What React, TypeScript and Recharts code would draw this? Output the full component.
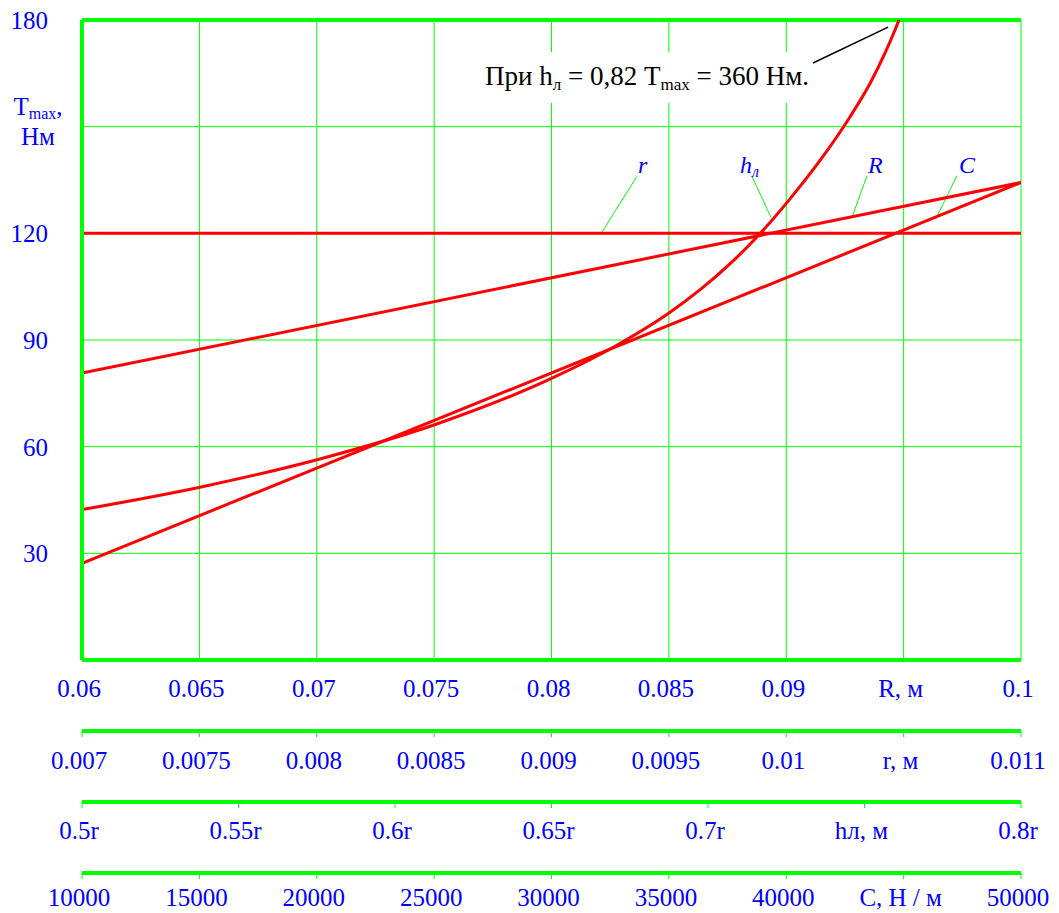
import React from 'react';
import {
  ComposedChart,
  Line,
  XAxis,
  YAxis,
  CartesianGrid,
  ReferenceLine,
  ReferenceArea,
  Scatter,
} from 'recharts';

// ---- data ----
const R_VALUES = [0.06, 0.1];
const R_TORQUE = [80.7, 134.3];

const SMALL_R_VALUES = [0.007, 0.011];
const SMALL_R_TORQUE = [120, 120];

const H_VALUES = [0.5, 0.5377, 0.5754, 0.6131, 0.6505, 0.6706, 0.6872, 0.6974, 0.707, 0.7166, 0.7262, 0.7358, 0.7454, 0.7518, 0.7565, 0.7607, 0.7629];
const H_TORQUE = [42.3, 48.6, 56.4, 66.3, 79.4, 88.4, 97.4, 104.1, 111.4, 119.9, 129.7, 140.5, 152.8, 162.2, 170.6, 179.3, 184.6];

const C_VALUES = [10000, 50000];
const C_TORQUE = [27.2, 134.3];

const R_TICKS = [0.06, 0.065, 0.07, 0.075, 0.08, 0.085, 0.09, 0.095, 0.1];
const R_TICK_LABELS = ['0.06', '0.065', '0.07', '0.075', '0.08', '0.085', '0.09', 'R, м', '0.1'];
const SMALL_R_TICKS = [0.007, 0.0075, 0.008, 0.0085, 0.009, 0.0095, 0.01, 0.0105, 0.011];
const SMALL_R_TICK_LABELS = ['0.007', '0.0075', '0.008', '0.0085', '0.009', '0.0095', '0.01', 'r, м', '0.011'];
const H_TICKS = [0.5, 0.55, 0.6, 0.65, 0.7, 0.75, 0.8];
const H_TICK_LABELS = ['0.5r', '0.55r', '0.6r', '0.65r', '0.7r', 'hл, м', '0.8r'];
const C_TICKS = [10000, 15000, 20000, 25000, 30000, 35000, 40000, 45000, 50000];
const C_TICK_LABELS = ['10000', '15000', '20000', '25000', '30000', '35000', '40000', 'C, Н / м', '50000'];
const Y_TICKS = [0, 30, 60, 90, 120, 150, 180];

// curve labels (in R-axis / torque coordinates)
const CURVE_LABELS = [
  { x: 0.08368, y: 137.1, text: 'r', sub: '' },
  { x: 0.08803, y: 137.1, text: 'h', sub: 'л' },
  { x: 0.09348, y: 137.1, text: 'R', sub: '' },
  { x: 0.09736, y: 137.1, text: 'C', sub: '' },
];
const LEADERS = [
  [{ x: 0.08364, y: 136.0 }, { x: 0.08215, y: 120.3 }],
  [{ x: 0.08854, y: 136.0 }, { x: 0.08935, y: 124.5 }],
  [{ x: 0.09344, y: 136.2 }, { x: 0.0928, y: 124.5 }],
  [{ x: 0.09727, y: 136.2 }, { x: 0.09638, y: 124.2 }],
];
const NOTE = [{ x: 0.07717, y: 161.8 }];
const NOTE_LEADER = [{ x: 0.09114, y: 167.9 }, { x: 0.09434, y: 178.0 }];
const NOTE_BOX = { x1: 0.0764, x2: 0.0914, y1: 156.7, y2: 171 };

const toPoints = (xs: number[], ys: number[]) => xs.map((x, i) => ({ x, y: ys[i] }));
const rData = toPoints(R_VALUES, R_TORQUE);
const smallRData = toPoints(SMALL_R_VALUES, SMALL_R_TORQUE);
const hData = toPoints(H_VALUES, H_TORQUE);
const cData = toPoints(C_VALUES, C_TORQUE);

const GREEN = '#00ff00';
const BLUE = '#0000ff';
const RED = '#ff0000';
const FONT = '"Liberation Serif", "Times New Roman", serif';
const FS = 25;

// axis ids are sorted when stacked: keep them in this order
const AX_R = '1R';
const AX_SR = '2r';
const AX_H = '3h';
const AX_C = '4C';

const makeTick = (ticks: number[], labels: string[], dy: number) => (props: any) => {
  const { x, y, payload } = props;
  const idx = ticks.findIndex((t) => Math.abs(t - payload.value) < 1e-9);
  const label = idx >= 0 ? labels[idx] : '';
  return (
    <text x={x - 3} y={y + dy} textAnchor="middle" fill={BLUE} fontSize={FS} fontFamily={FONT}>
      {label}
    </text>
  );
};

const YTick = (props: any) => {
  const { x, y, payload } = props;
  const v = payload.value;
  if (v === 0) return <g />;
  if (v === 150) {
    return (
      <text fill={BLUE} fontSize={FS} fontFamily={FONT} textAnchor="middle">
        <tspan x={x - 44} y={y - 12}>
          T<tspan fontSize={16} dy={4}>max</tspan>
          <tspan dy={-4}>,</tspan>
        </tspan>
        <tspan x={x - 44} y={y + 18}>Нм</tspan>
      </text>
    );
  }
  return (
    <text x={x - 34} y={y + 9} textAnchor="end" fill={BLUE} fontSize={FS} fontFamily={FONT}>
      {v}
    </text>
  );
};

const CurveLabel = (props: any) => {
  const { cx, cy, payload } = props;
  return (
    <text x={cx} y={cy} fill={BLUE} fontSize={24} fontStyle="italic" fontFamily={FONT}>
      {payload.text}
      {payload.sub ? (
        <tspan fontSize={16} dy={4}>
          {payload.sub}
        </tspan>
      ) : null}
    </text>
  );
};

const NoteShape = (props: any) => {
  const { cx, cy } = props;
  return (
    <text x={cx} y={cy} fill="#000" fontSize={27} fontFamily={FONT}>
      {'При h'}
      <tspan fontSize={17} dy={5}>л</tspan>
      <tspan dy={-5}>{' = 0,82 T'}</tspan>
      <tspan fontSize={17} dy={5}>max</tspan>
      <tspan dy={-5}>{' = 360 Нм.'}</tspan>
    </text>
  );
};

export default function App() {
  return (
    <ComposedChart width={1051} height={905} margin={{ top: 12, right: 38, bottom: 0, left: 0 }}>
      <CartesianGrid xAxisId={AX_R} stroke={GREEN} strokeWidth={1} />
      <XAxis
        xAxisId={AX_R}
        type="number"
        dataKey="x"
        domain={[0.06, 0.1]}
        ticks={R_TICKS}
        interval={0}
        height={71}
        axisLine={{ stroke: GREEN, strokeWidth: 4 }}
        tickLine={false}
        tickSize={6}
        tickMargin={0}
        tick={makeTick(R_TICKS, R_TICK_LABELS, 31)}
        allowDataOverflow
      />
      <XAxis
        xAxisId={AX_SR}
        type="number"
        dataKey="x"
        domain={[0.007, 0.011]}
        ticks={SMALL_R_TICKS}
        interval={0}
        height={71}
        axisLine={{ stroke: GREEN, strokeWidth: 4 }}
        tickLine={{ stroke: GREEN, strokeWidth: 1 }}
        tickSize={6}
        tickMargin={0}
        tick={makeTick(SMALL_R_TICKS, SMALL_R_TICK_LABELS, 32)}
        allowDataOverflow
      />
      <XAxis
        xAxisId={AX_H}
        type="number"
        dataKey="x"
        domain={[0.5, 0.8]}
        ticks={H_TICKS}
        interval={0}
        height={71}
        axisLine={{ stroke: GREEN, strokeWidth: 4 }}
        tickLine={{ stroke: GREEN, strokeWidth: 1 }}
        tickSize={6}
        tickMargin={0}
        tick={makeTick(H_TICKS, H_TICK_LABELS, 31)}
        allowDataOverflow
      />
      <XAxis
        xAxisId={AX_C}
        type="number"
        dataKey="x"
        domain={[10000, 50000]}
        ticks={C_TICKS}
        interval={0}
        height={40}
        axisLine={{ stroke: GREEN, strokeWidth: 4 }}
        tickLine={{ stroke: GREEN, strokeWidth: 1 }}
        tickSize={6}
        tickMargin={0}
        tick={makeTick(C_TICKS, C_TICK_LABELS, 27)}
        allowDataOverflow
      />
      <YAxis
        type="number"
        dataKey="y"
        domain={[0, 180]}
        ticks={Y_TICKS}
        interval={0}
        width={74}
        axisLine={{ stroke: GREEN, strokeWidth: 4 }}
        tickLine={false}
        tickSize={0}
        tickMargin={0}
        tick={YTick}
        allowDataOverflow
      />
      <ReferenceLine xAxisId={AX_R} y={180} stroke={GREEN} strokeWidth={4} />
      <ReferenceArea
        xAxisId={AX_R}
        x1={NOTE_BOX.x1}
        x2={NOTE_BOX.x2}
        y1={NOTE_BOX.y1}
        y2={NOTE_BOX.y2}
        fill="#ffffff"
        fillOpacity={1}
        stroke="none"
      />
      {LEADERS.map((seg, i) => (
        <ReferenceLine key={i} xAxisId={AX_R} segment={seg} stroke={GREEN} strokeWidth={1} />
      ))}
      <ReferenceLine xAxisId={AX_R} segment={NOTE_LEADER} stroke="#000" strokeWidth={1.5} />
      <Line xAxisId={AX_SR} data={smallRData} dataKey="y" stroke={RED} strokeWidth={3} dot={false} isAnimationActive={false} />
      <Line xAxisId={AX_R} data={rData} dataKey="y" stroke={RED} strokeWidth={3} dot={false} isAnimationActive={false} />
      <Line xAxisId={AX_C} data={cData} dataKey="y" stroke={RED} strokeWidth={3} dot={false} isAnimationActive={false} />
      <Line xAxisId={AX_H} data={hData} dataKey="y" type="monotone" stroke={RED} strokeWidth={3} dot={false} isAnimationActive={false} />
      <Scatter xAxisId={AX_R} data={CURVE_LABELS} dataKey="y" shape={CurveLabel} isAnimationActive={false} />
      <Scatter xAxisId={AX_R} data={NOTE} dataKey="y" shape={NoteShape} isAnimationActive={false} />
    </ComposedChart>
  );
}
